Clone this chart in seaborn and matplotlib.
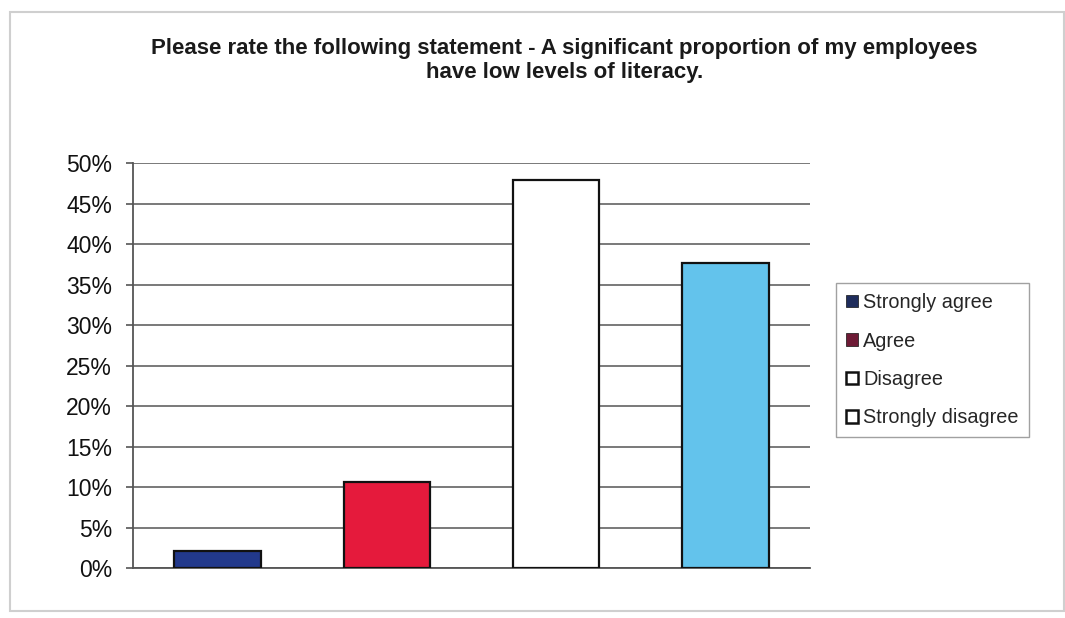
import matplotlib
matplotlib.use("Agg")
import matplotlib.pyplot as plt
from matplotlib.patches import Patch, Rectangle
from matplotlib.ticker import PercentFormatter
import seaborn as sns
import pandas as pd

# Survey responses (share of respondents, %)
categories = ["Strongly agree", "Agree", "Disagree", "Strongly disagree"]
values = [2.1, 10.6, 47.9, 37.7]
bar_colors = ["#22398C", "#E51A3C", "#FFFFFF", "#63C3EC"]
legend_colors = ["#1F2D5C", "#6E1B36", "#FFFFFF", "#FFFFFF"]
yticks = [0, 5, 10, 15, 20, 25, 30, 35, 40, 45, 50]
title = ("Please rate the following statement - A significant proportion of my employees\n"
         "have low levels of literacy.")

sns.set_theme(style="white")
plt.rcParams["font.family"] = ["Liberation Sans", "DejaVu Sans"]

df = pd.DataFrame({"response": categories, "share": values})

fig = plt.figure(figsize=(10.65, 6.18), dpi=100)
ax = fig.add_axes([0.1249, 0.0809, 0.6357, 0.6553])

sns.barplot(data=df, x="response", y="share", hue="response", order=categories,
            hue_order=categories, palette=bar_colors, saturation=1, width=0.51,
            edgecolor="#111111", linewidth=1.6, legend=False, ax=ax, zorder=3)

ax.set_ylim(0, 50)
ax.set_xlim(-0.5, 3.5)
ax.set_yticks(yticks)
ax.yaxis.set_major_formatter(PercentFormatter(decimals=0))
ax.set_xticks([])
ax.set_xlabel("")
ax.set_ylabel("")
ax.grid(axis="y", color="#6E6E6E", linewidth=1.3, zorder=0)
for side in ["top", "right"]:
    ax.spines[side].set_visible(False)
ax.spines["left"].set_color("#555555")
ax.spines["left"].set_linewidth(1.3)
ax.spines["bottom"].set_color("#555555")
ax.spines["bottom"].set_linewidth(1.3)
ax.tick_params(axis="y", which="major", left=True, length=5, width=1.2,
               color="#555555", labelsize=16.5, pad=10, labelcolor="#111111")

fig.text(0.53, 0.902, title, ha="center", va="center", fontsize=16,
         fontweight="bold", color="#1A1A1A", linespacing=1.2)

handles = [Patch(facecolor=c, edgecolor="#111111", linewidth=1.8 if c == "#FFFFFF" else 0.5)
           for c in legend_colors]
leg = fig.legend(handles, categories, loc="center left",
                 bbox_to_anchor=(0.776, 0.417), frameon=True, fontsize=14.3,
                 handlelength=0.6, handleheight=0.6, handletextpad=0.25,
                 labelspacing=0.98, borderpad=0.5, fancybox=False)
leg.get_frame().set_edgecolor("#8A8A8A")
leg.get_frame().set_linewidth(1.0)

# light outer frame of the chart area
fig.patches.append(Rectangle((0.009, 0.012), 0.99, 0.968, transform=fig.transFigure,
                             fill=False, edgecolor="#CFCFCF", linewidth=1.5))

fig.savefig("out.png", dpi=100, facecolor="white")
